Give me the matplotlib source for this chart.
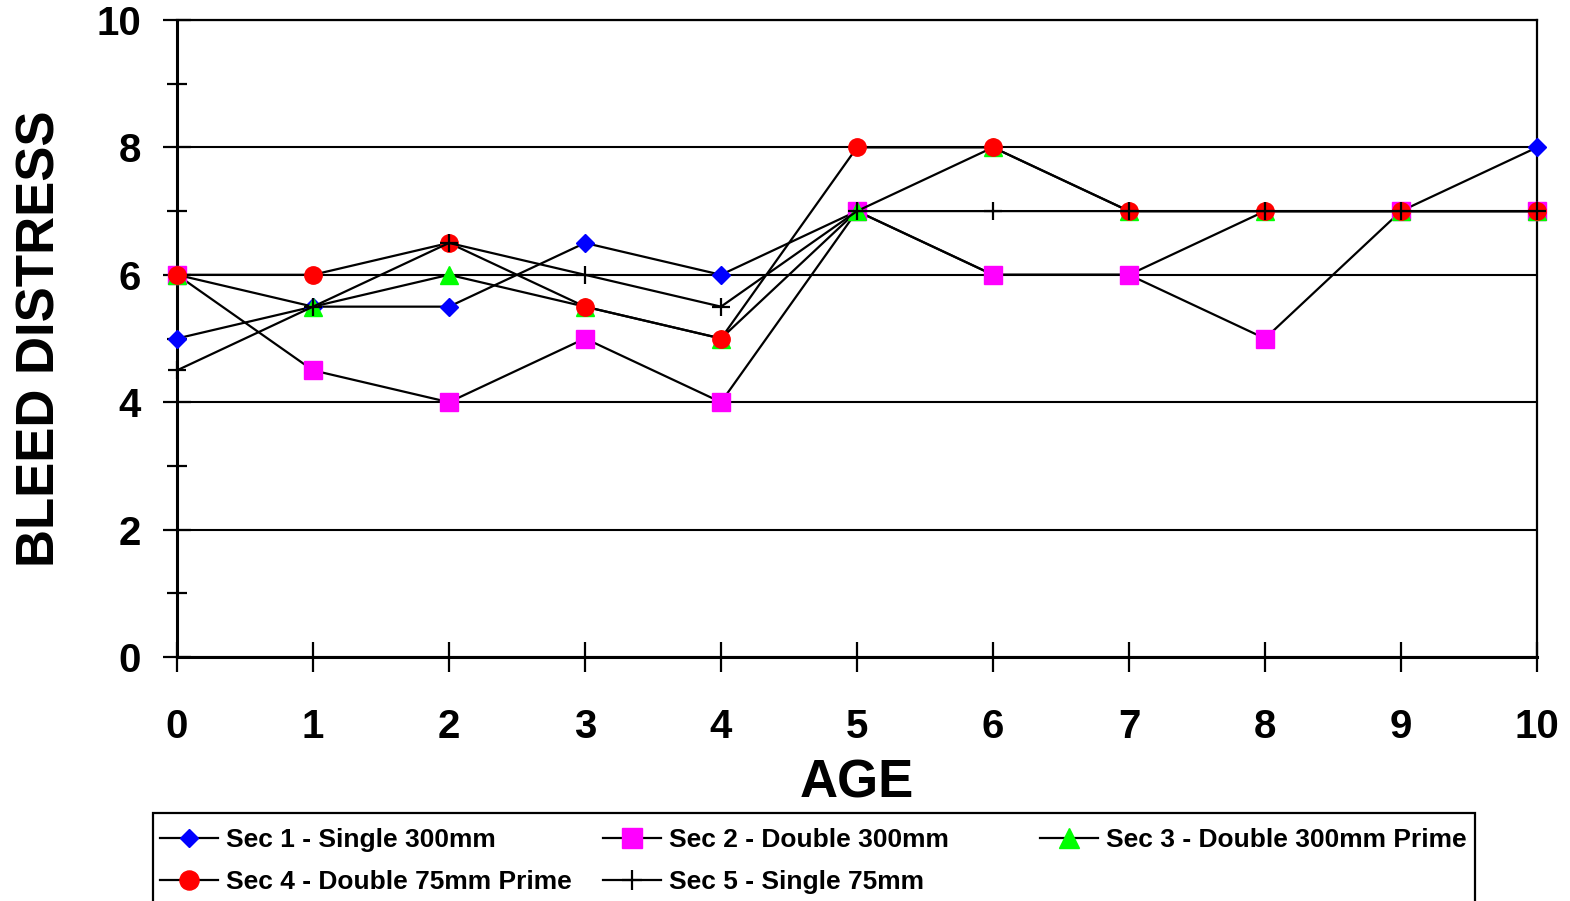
import matplotlib
matplotlib.use("Agg")
import matplotlib.pyplot as plt
from matplotlib.patches import Rectangle
from matplotlib.ticker import MultipleLocator

# Bleed distress ratings per section, by age
ages = [0, 1, 2, 3, 4, 5, 6, 7, 8, 9, 10]
sec1 = [5, 5.5, 5.5, 6.5, 6, 7, 6, 6, 7, 7, 8]
sec2 = [6, 4.5, 4, 5, 4, 7, 6, 6, 5, 7, 7]
sec3 = [6, 5.5, 6, 5.5, 5, 7, 8, 7, 7, 7, 7]
sec4 = [6, 6, 6.5, 5.5, 5, 8, 8, 7, 7, 7, 7]
sec5 = [4.5, 5.5, 6.5, 6, 5.5, 7, 7, 7, 7, 7, 7]

labels = ["Sec 1 - Single 300mm", "Sec 2 - Double 300mm",
          "Sec 3 - Double 300mm Prime", "Sec 4 - Double 75mm Prime",
          "Sec 5 - Single 75mm"]

plt.rcParams['font.family'] = ['Liberation Sans', 'DejaVu Sans']
plt.rcParams['font.weight'] = 'bold'

W, H = 1570, 901
fig = plt.figure(figsize=(W / 100, H / 100), dpi=100)
ax = fig.add_axes([177 / W, 1 - 657 / H, (1537 - 177) / W, (657 - 20) / H])

styles = [
    dict(marker='D', ms=8.7, mfc='#0000ff', mec='#0000ff'),
    dict(marker='s', ms=12.5, mfc='#ff00ff', mec='#ff00ff'),
    dict(marker='^', ms=12.5, mfc='#00ff00', mec='#00ff00'),
    dict(marker='o', ms=12.5, mfc='#ff0000', mec='#ff0000'),
    dict(marker='+', ms=13, mfc='black', mec='black', mew=1.6),
]

lines = []
for vals, lab, st in zip([sec1, sec2, sec3, sec4, sec5], labels, styles):
    ln, = ax.plot(ages, vals, color='black', lw=1.6, label=lab,
                  clip_on=False, zorder=3, **st)
    lines.append(ln)

ax.set_xlim(0, 10)
ax.set_ylim(0, 10)
ax.xaxis.set_major_locator(MultipleLocator(1))
ax.yaxis.set_major_locator(MultipleLocator(2))
ax.yaxis.set_minor_locator(MultipleLocator(1))

ax.grid(True, axis='y', which='major', color='black', lw=1.5, zorder=1)
ax.set_axisbelow(True)

for side in ['left', 'bottom']:
    ax.spines[side].set_linewidth(2.2)
for side in ['right', 'top']:
    ax.spines[side].set_linewidth(1.6)

ax.tick_params(axis='x', which='major', direction='inout', length=21,
               width=1.6, labelsize=29, pad=26)
ax.tick_params(axis='y', which='major', direction='inout', length=20,
               width=1.6, labelsize=29, pad=16)
ax.tick_params(axis='y', which='minor', direction='inout', length=15,
               width=1.6)
for t in ax.get_xticklabels() + ax.get_yticklabels():
    t.set_fontweight('bold')

ax.set_xlabel("AGE", fontsize=38, fontweight='bold', labelpad=9)
ax.set_ylabel("BLEED DISTRESS", fontsize=38, fontweight='bold', labelpad=22)

# Legend: three columns laid out in row order, inside one frame
legend_cols = [[lines[0], lines[3]], [lines[1], lines[4]], [lines[2]]]
col_x = [160, 603, 1040]
leg_font = dict(family='Liberation Sans', weight='bold', size=19)
for handles, x in zip(legend_cols, col_x):
    leg = fig.legend(handles=handles, loc='upper left',
                     bbox_to_anchor=(x / W, 1 - 828 / H),
                     frameon=False, prop=leg_font, borderpad=0,
                     borderaxespad=0, handlelength=2.2, handletextpad=0.3,
                     labelspacing=0.68, markerscale=1.1)

fig.add_artist(Rectangle((153 / W, -0.1), (1475 - 153) / W, 0.1 + 1 - 813 / H,
                         transform=fig.transFigure, fill=False,
                         ec='black', lw=1.6))

fig.savefig('out.png', dpi=100)
